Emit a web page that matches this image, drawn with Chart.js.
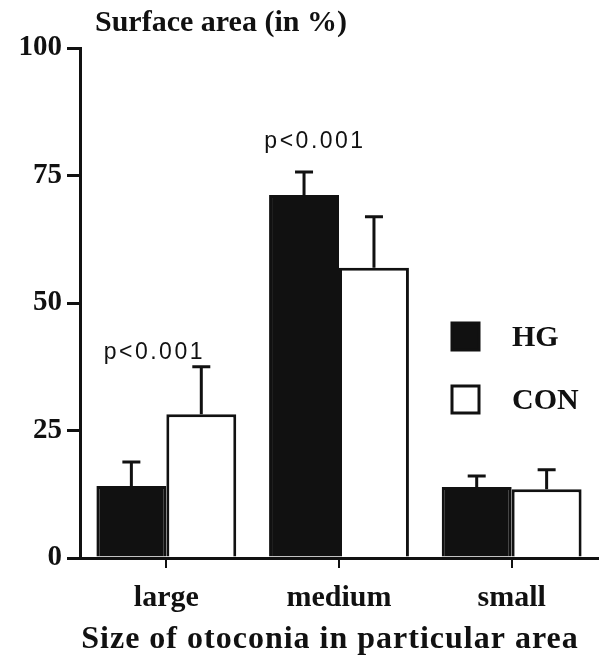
<!DOCTYPE html>
<html>
<head>
<meta charset="utf-8">
<script src="https://cdn.jsdelivr.net/npm/chart.js@4/dist/chart.umd.min.js"></script>
<style>
  html, body { margin: 0; padding: 0; background: #fff; }
  #wrap { width: 600px; height: 662px; }
</style>
</head>
<body>
<div id="wrap"><canvas id="myChart" width="600" height="662"></canvas></div>
<script>
// values
const categories = ['large', 'medium', 'small'];
const hgMeans = [14.1, 71.2, 13.9];
const hgSD = [4.7, 4.5, 2.2];
const conMeans = [28.2, 56.9, 13.5];
const conSD = [9.3, 10.0, 3.8];
const pLabels = ['p<0.001', 'p<0.001', ''];
const pLabelValues = [40.2, 81.6, null];
const yTickStep = 25;

const serif = '"Liberation Serif", "DejaVu Serif", serif';
const sans = '"Liberation Sans", Arial, sans-serif';

const errorBars = {
    id: 'errorBars',
    afterDatasetsDraw(chart) {
        const ctx = chart.ctx;
        const y = chart.scales.y;
        const sds = [hgSD, conSD];
        ctx.save();
        ctx.strokeStyle = '#111';
        ctx.lineWidth = 3;
        chart.data.datasets.forEach((ds, di) => {
            const meta = chart.getDatasetMeta(di);
            meta.data.forEach((bar, i) => {
                const top = y.getPixelForValue(ds.data[i]);
                const end = y.getPixelForValue(ds.data[i] + sds[di][i]);
                ctx.beginPath();
                ctx.moveTo(bar.x, top);
                ctx.lineTo(bar.x, end);
                ctx.moveTo(bar.x - 9, end);
                ctx.lineTo(bar.x + 9, end);
                ctx.stroke();
            });
        });
        ctx.restore();
    }
};

const extras = {
    id: 'extras',
    afterDraw(chart) {
        const ctx = chart.ctx;
        const x = chart.scales.x;
        const y = chart.scales.y;
        ctx.save();
        ctx.fillStyle = '#111';
        ctx.textBaseline = 'middle';

        // y title
        ctx.font = 'bold 30px ' + serif;
        ctx.textAlign = 'left';
        ctx.letterSpacing = '0px';
        ctx.fillText('Surface area (in %)', 95, 23);

        // x title
        ctx.font = 'bold 32px ' + serif;
        ctx.textAlign = 'center';
        ctx.letterSpacing = '1px';
        ctx.fillText('Size of otoconia in particular area', 330, 640);

        // p values
        ctx.font = '23px ' + sans;
        ctx.letterSpacing = '2.5px';
        const shift = [-12, -24, 0];
        pLabels.forEach((t, i) => {
            if (!t) return;
            ctx.fillText(t, x.getPixelForValue(i) + shift[i], y.getPixelForValue(pLabelValues[i]));
        });
        ctx.letterSpacing = '0px';

        // legend
        const items = [['HG', '#111'], ['CON', '#fff']];
        ctx.font = 'bold 30px ' + serif;
        ctx.textAlign = 'left';
        items.forEach((it, k) => {
            const top = 323 + k * 63;
            ctx.fillStyle = it[1];
            ctx.fillRect(452, top, 27, 27);
            ctx.strokeStyle = '#111';
            ctx.lineWidth = 3;
            ctx.strokeRect(452, top, 27, 27);
            ctx.fillStyle = '#111';
            ctx.fillText(it[0], 512, top + 15);
        });
        ctx.restore();
    }
};

const data = {
    labels: categories,
    datasets: [{
        label: 'HG',
        data: hgMeans,
        backgroundColor: '#111',
        borderColor: '#111',
        borderWidth: 3
    }, {
        label: 'CON',
        data: conMeans,
        backgroundColor: '#fff',
        borderColor: '#111',
        borderWidth: 3
    }]
};

const config = {
    type: 'bar',
    data,
    options: {
        responsive: false,
        animation: false,
        layout: { padding: { top: 48, right: 2, left: 0, bottom: 0 } },
        datasets: { bar: { categoryPercentage: 0.81, barPercentage: 1 } },
        plugins: { legend: { display: false }, tooltip: { enabled: false } },
        scales: {
            x: {
                offset: true,
                grid: { display: true, offset: false, drawOnChartArea: false, drawTicks: true, tickLength: 10, color: '#111', lineWidth: 2 },
                border: { display: true, color: '#111', width: 3 },
                ticks: { color: '#111', font: { family: serif, size: 30, weight: 'bold' }, padding: 12 },
                afterFit(scale) { scale.height = 104; }
            },
            y: {
                min: 0,
                max: 100,
                ticks: { stepSize: yTickStep, color: '#111', font: { family: serif, size: 29, weight: 'bold' }, padding: 5 },
                grid: { display: true, drawOnChartArea: false, drawTicks: true, tickLength: 13, color: '#111', lineWidth: 3 },
                border: { display: true, color: '#111', width: 3 },
                afterFit(scale) { scale.width = 80; }
            }
        }
    },
    plugins: [errorBars, extras]
};

const myChart = new Chart(document.getElementById('myChart'), config);
</script>
</body>
</html>
